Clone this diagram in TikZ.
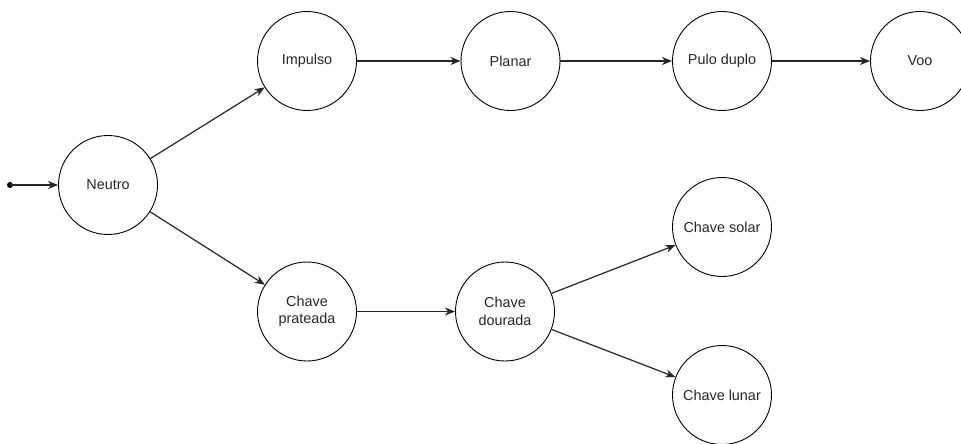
\documentclass[tikz,border=0pt]{standalone}
\usepackage{fontspec}
\setmainfont{Liberation Sans}
\usetikzlibrary{arrows.meta}
\tikzset{
  state/.style={circle, draw=black, line width=0.9pt, minimum size=99pt, inner sep=0pt, align=center, font=\fontsize{14.4}{17.5}\selectfont, text=black!85},
  edge/.style={draw=black!85, line width=1.2pt, -{Stealth[length=10pt,width=8pt,inset=3pt]}},
}
\begin{document}
\begin{tikzpicture}[x=1pt,y=-1pt]
\useasboundingbox (0,0) rectangle (961,444);
\node[state] (neutro) at (108,185) {Neutro};
\node[state] (impulso) at (307,61) {Impulso};
\node[state] (planar) at (510.5,61) {Planar};
\node[state] (pulo) at (722,61) {Pulo duplo};
\node[state] (voo) at (920,61) {Voo};
\node[state] (prata) at (307,311.5) {Chave\\prateada};
\node[state] (ouro) at (505,311.5) {Chave\\dourada};
\node[state] (solar) at (722,227) {Chave solar};
\node[state] (lunar) at (722,395) {Chave lunar};
\coordinate (s) at (10,185);
\fill[black] (s) circle (3pt);
\draw[edge] (s) -- (neutro);
\draw[edge] (neutro) -- (impulso);
\draw[edge] (neutro) -- (prata);
\draw[edge] (impulso) -- (planar);
\draw[edge] (planar) -- (pulo);
\draw[edge] (pulo) -- (voo);
\draw[edge] (prata) -- (ouro);
\draw[edge] (ouro) -- (solar);
\draw[edge] (ouro) -- (lunar);
\end{tikzpicture}
\end{document}
